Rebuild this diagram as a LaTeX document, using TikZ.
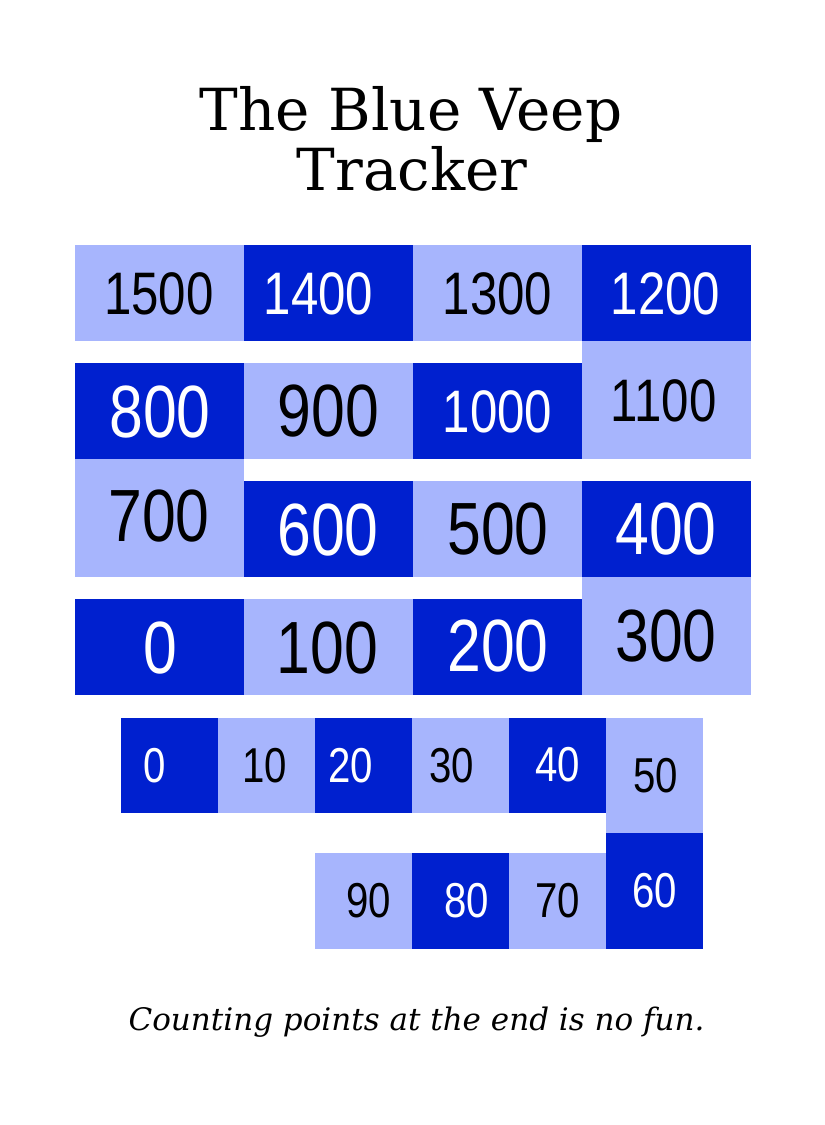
\documentclass[tikz,border=0pt]{standalone}
\usepackage{fontspec}
\setmainfont{DejaVu Serif}
\newfontfamily\numfont{Liberation Sans}
\definecolor{lightblue}{HTML}{A7B5FD}
\definecolor{darkblue}{HTML}{0020CF}
\newcommand\nbig{\numfont\fontsize{74}{74}\selectfont}
\newcommand\nmid{\numfont\fontsize{60}{60}\selectfont}
\newcommand\nsml{\numfont\fontsize{49}{49}\selectfont}
\newcommand\nx[1]{\scalebox{0.82}[1]{#1}}
\tikzset{
  cell/.style={rectangle, inner sep=0pt, outer sep=0pt, draw=none},
  lt/.style={cell, fill=lightblue},
  dk/.style={cell, fill=darkblue},
  wide/.style={minimum width=169pt},
  narrow/.style={minimum width=97pt},
  num/.style={inner sep=0pt, outer sep=0pt},
  ontl/.style={num, text=black},
  ondk/.style={num, text=white},
  titletext/.style={anchor=base, font=\fontsize{58}{58}\selectfont},
}
\begin{document}
\begin{tikzpicture}[x=1pt,y=-1pt]
\useasboundingbox (0,0) rectangle (825,1125);
% title
\node[titletext] (title1) at (411,130.7) {The Blue Veep};
\node[titletext] (title2) at (412,190) {Tracker};
% top grid cells
\node[lt, wide, minimum height=96pt]  (b1500) at (159.5,293) {};
\node[dk, wide, minimum height=96pt]  (b1400) at (328.5,293) {};
\node[lt, wide, minimum height=96pt]  (b1300) at (497.5,293) {};
\node[dk, wide, minimum height=96pt]  (b1200) at (666.5,293) {};
\node[dk, wide, minimum height=96pt]  (b800)  at (159.5,411) {};
\node[lt, wide, minimum height=96pt]  (b900)  at (328.5,411) {};
\node[dk, wide, minimum height=96pt]  (b1000) at (497.5,411) {};
\node[lt, wide, minimum height=118pt] (b1100) at (666.5,400) {};
\node[lt, wide, minimum height=118pt] (b700)  at (159.5,518) {};
\node[dk, wide, minimum height=96pt]  (b600)  at (328.5,529) {};
\node[lt, wide, minimum height=96pt]  (b500)  at (497.5,529) {};
\node[dk, wide, minimum height=96pt]  (b400)  at (666.5,529) {};
\node[dk, wide, minimum height=96pt]  (b0)    at (159.5,647) {};
\node[lt, wide, minimum height=96pt]  (b100)  at (328.5,647) {};
\node[dk, wide, minimum height=96pt]  (b200)  at (497.5,647) {};
\node[lt, wide, minimum height=118pt] (b300)  at (666.5,636) {};
% top grid labels
\node[ontl, font=\nmid] (l1500) at (159,294) {\nx{1500}};
\node[ondk, font=\nmid] (l1400) at (318.5,294) {\nx{1400}};
\node[ontl, font=\nmid] (l1300) at (497.5,294) {\nx{1300}};
\node[ondk, font=\nmid] (l1200) at (665.5,294) {\nx{1200}};
\node[ondk, font=\nbig] (l800)  at (160,412) {\nx{800}};
\node[ontl, font=\nbig] (l900)  at (328.5,411.5) {\nx{900}};
\node[ondk, font=\nmid] (l1000) at (497.5,411.5) {\nx{1000}};
\node[ontl, font=\nmid] (l1100) at (663.5,401) {\nx{1100}};
\node[ontl, font=\nbig] (l700)  at (159,516.5) {\nx{700}};
\node[ondk, font=\nbig] (l600)  at (328,530) {\nx{600}};
\node[ontl, font=\nbig] (l500)  at (498,529.5) {\nx{500}};
\node[ondk, font=\nbig] (l400)  at (666,529.5) {\nx{400}};
\node[ondk, font=\nbig] (l0)    at (160,648.5) {\nx{0}};
\node[ontl, font=\nbig] (l100)  at (327.5,648.5) {\nx{100}};
\node[ondk, font=\nbig] (l200)  at (498,646.5) {\nx{200}};
\node[ontl, font=\nbig] (l300)  at (666,636) {\nx{300}};
% bottom cells
\node[dk, narrow, minimum height=95pt]  (c0)  at (169.5,765.5) {};
\node[lt, narrow, minimum height=95pt]  (c10) at (266.5,765.5) {};
\node[dk, narrow, minimum height=95pt]  (c20) at (363.5,765.5) {};
\node[lt, narrow, minimum height=95pt]  (c30) at (460.5,765.5) {};
\node[dk, narrow, minimum height=95pt]  (c40) at (557.5,765.5) {};
\node[lt, narrow, minimum height=115pt] (c50) at (654.5,775.5) {};
\node[dk, narrow, minimum height=116pt] (c60) at (654.5,891) {};
\node[lt, narrow, minimum height=96pt]  (c70) at (557.5,901) {};
\node[dk, narrow, minimum height=96pt]  (c80) at (460.5,901) {};
\node[lt, narrow, minimum height=96pt]  (c90) at (363.5,901) {};
% bottom labels
\node[ondk, font=\nsml] (m0)  at (154.5,766) {\nx{0}};
\node[ontl, font=\nsml] (m10) at (265,766) {\nx{10}};
\node[ondk, font=\nsml] (m20) at (351,766) {\nx{20}};
\node[ontl, font=\nsml] (m30) at (452,766) {\nx{30}};
\node[ondk, font=\nsml] (m40) at (557.5,765) {\nx{40}};
\node[ontl, font=\nsml] (m50) at (655.5,776) {\nx{50}};
\node[ondk, font=\nsml] (m60) at (655,891) {\nx{60}};
\node[ontl, font=\nsml] (m70) at (558,900.5) {\nx{70}};
\node[ondk, font=\nsml] (m80) at (467,900.5) {\nx{80}};
\node[ontl, font=\nsml] (m90) at (369,900.5) {\nx{90}};
% caption
\node[anchor=base, font=\itshape\fontsize{31}{31}\selectfont] (caption) at (416.5,1030) {Counting points at the end is no fun.};
\end{tikzpicture}
\end{document}
